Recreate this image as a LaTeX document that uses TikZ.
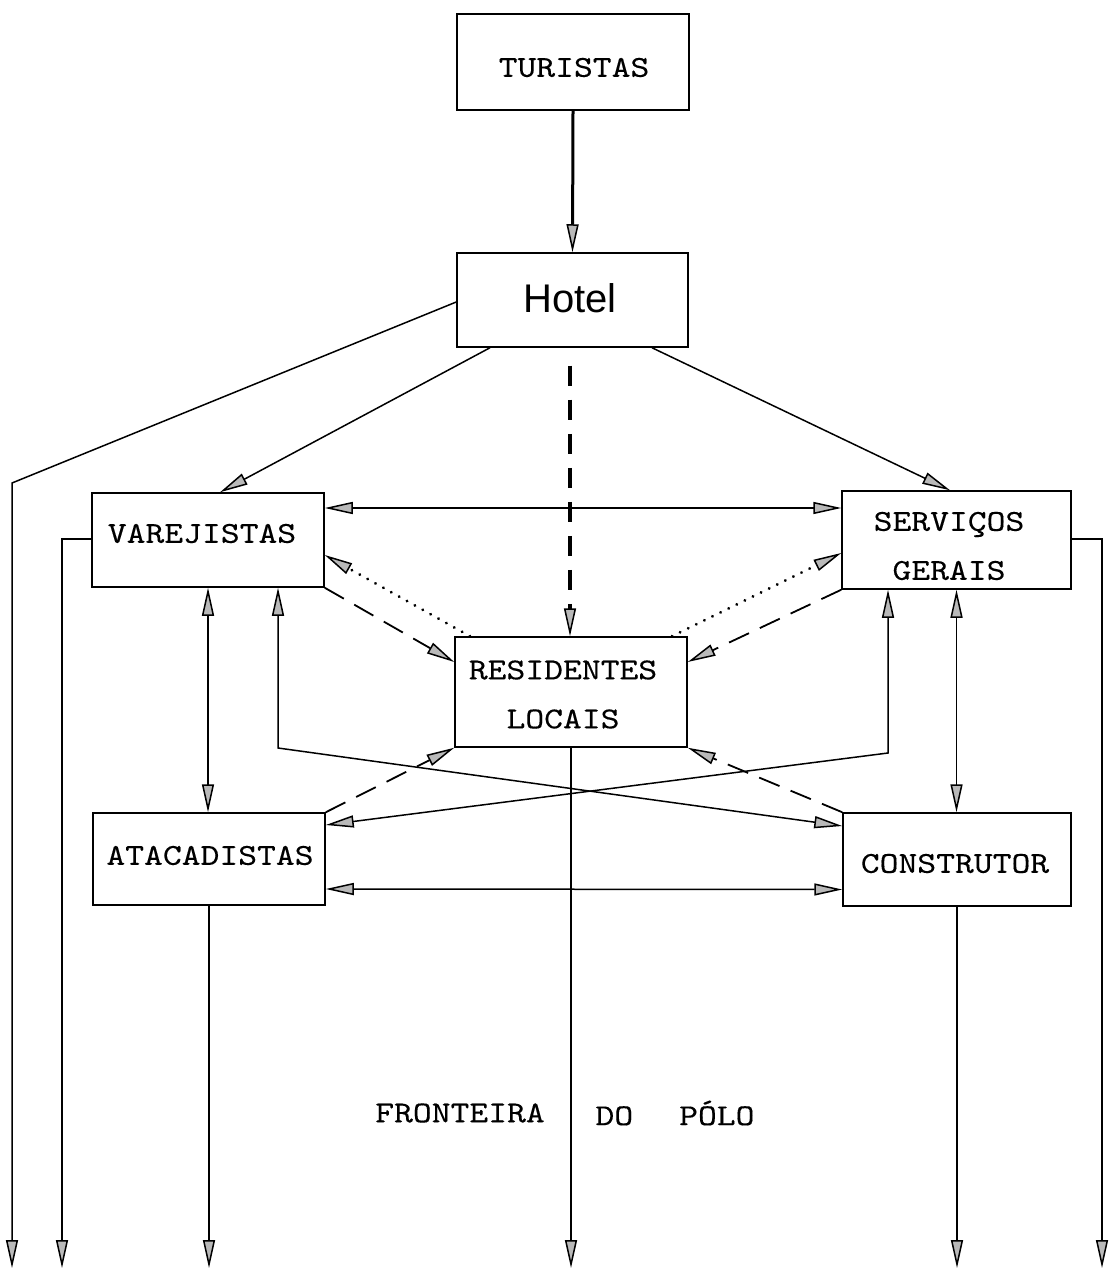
\documentclass[tikz,border=0pt]{standalone}
\usepackage{fontspec}
\usetikzlibrary{arrows.meta}
\newfontfamily\tw[FakeStretch=1.18,FakeBold=0.25]{lmmono10-regular.otf}
\newfontfamily\hv{Liberation Sans}
\newcommand\mv[3]{\raisebox{#2}[\height][\depth]{\kern#1\relax\begin{tabular}{@{}c@{}}#3\end{tabular}\kern-#1\relax}}
\begin{document}
\begin{tikzpicture}[x=0.5pt,y=-0.5pt,line width=0.75pt,
  >={Triangle[length=14pt,width=6pt,fill=gray!55,line width=0.75pt]},
  box/.style={draw,rectangle,inner sep=0pt,font=\tw\fontsize{15.2pt}{24.5pt}\selectfont},
  txt/.style={inner sep=0pt,font=\tw\fontsize{15.2pt}{24.5pt}\selectfont},
  dots/.style={line width=1.6pt,line cap=round,dash pattern=on 0.01pt off 4.5pt},
  dashone/.style={line width=0.9pt,dash pattern=on 11pt off 6pt},
  dashthick/.style={line width=1.6pt,dash pattern=on 10pt off 7pt}]
\useasboundingbox (0,0) rectangle (1119,1272);

% boxes
\node[box,minimum width=116pt,minimum height=48pt] (tur) at (573,62) {\mv{0.5pt}{-2.5pt}{TURISTAS}};
\node[box,font=\hv\fontsize{20pt}{24.5pt}\selectfont,minimum width=115.5pt,minimum height=47pt] (hot) at (572.5,300) {\mv{-1.25pt}{-1.5pt}{Hotel}};
\node[box,minimum width=116pt,minimum height=47pt] (var) at (208,540) {\mv{-3pt}{3.5pt}{VAREJISTAS}};
\node[box,minimum width=114.5pt,minimum height=47pt] (ser) at (956.5,540) {\mv{-3.75pt}{-2.75pt}{SERVIÇOS\\GERAIS}};
\node[box,minimum width=116pt,minimum height=55pt] (res) at (571,692) {\mv{-4pt}{-1pt}{RESIDENTES\\LOCAIS}};
\node[box,minimum width=116pt,minimum height=46pt] (ata) at (209,859) {\mv{0.5pt}{2pt}{ATACADISTAS}};
\node[box,minimum width=114pt,minimum height=46.5pt] (con) at (957,859.5) {\mv{-1pt}{-1.75pt}{CONSTRUTOR}};

% boundary text
\node[txt] (fr1) at (460,1113) {FRONTEIRA};
\node[txt] (fr2) at (675,1113) {DO\hspace{23pt}PÓLO};

% helper coordinates
\coordinate (k1) at (12,483);
\coordinate (k2) at (278,748);
\coordinate (k3) at (888,753);
\coordinate (e1) at (12,1268);
\coordinate (e2) at (62,1268);
\coordinate (e3) at (209,1268);
\coordinate (e4) at (571,1268);
\coordinate (e5) at (957,1268);
\coordinate (e6) at (1102,1268);

% connectors
\draw[line width=1.5pt,->] (tur.south) -- (hot.north);
\draw[->] ([yshift=-1pt]hot.west) -- (k1) -- (e1);
\draw[->] ([xshift=-41.25pt]hot.south) -- ([xshift=6pt]var.north);
\draw[->] ([xshift=39.75pt]hot.south) -- ([xshift=-3.25pt]ser.north);
\draw[dashthick,->] ([xshift=-1.25pt,yshift=-9pt]hot.south) -- ([xshift=-0.5pt]res.north);
\draw[<->] ([yshift=16pt]var.east) -- ([yshift=16pt]ser.west);
\draw[->] ([yshift=0.5pt]var.west) -| (e2);
\draw[->] ([yshift=0.5pt]ser.east) -| (e6);
\draw[dots,->] ([xshift=-50.5pt]res.north) -- ([yshift=-7.5pt]var.east);
\draw[dashone,->] (var.south east) -- ([yshift=15pt]res.west);
\draw[dots,->] ([xshift=50.5pt]res.north) -- ([yshift=-6.5pt]ser.west);
\draw[dashone,->] (ser.south west) -- ([yshift=15pt]res.east);
\draw[<->] (var.south) -- (var.south |- ata.north);
\draw[<->] (ser.south) -- (ser.south |- con.north);
\draw[<->] ([xshift=35pt]var.south) -- (k2) -- ([yshift=16.75pt]con.west);
\draw[<->] ([xshift=-34.25pt]ser.south) -- (k3) -- ([yshift=17pt]ata.east);
\draw[dashone,->] (ata.north east) -- (res.south west);
\draw[dashone,->] (con.north west) -- (res.south east);
\draw[<->] ([yshift=-15pt]ata.east) -- ([yshift=-15pt]con.west);
\draw[->] (ata.south) -- (e3);
\draw[->] (res.south) -- (e4);
\draw[->] (con.south) -- (e5);
\end{tikzpicture}
\end{document}
